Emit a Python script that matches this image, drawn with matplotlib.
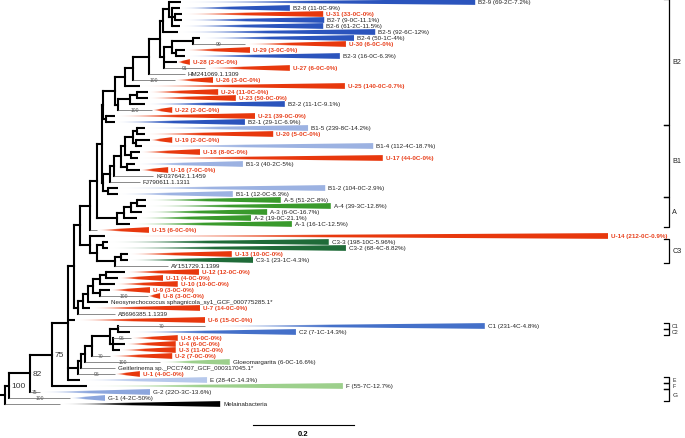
import numpy as np
import matplotlib.pyplot as plt
from matplotlib.patches import Polygon
from matplotlib.colors import to_rgb

plt.rcParams['font.family'] = ['Liberation Sans', 'DejaVu Sans']

# leaves, top to bottom
leaf_ids = ['B2-9', 'B2-8', 'U-31', 'B2-7', 'B2-6', 'B2-5', 'B2-4', 'U-30', 'U-29', 'B2-3',
            'U-28', 'U-27', 'HM241069', 'U-26', 'U-25', 'U-24', 'U-23', 'B2-2', 'U-22', 'U-21',
            'B2-1', 'B1-5', 'U-20', 'U-19', 'B1-4', 'U-18', 'U-17', 'B1-3', 'U-16', 'KF037642',
            'FJ790611', 'B1-2', 'B1-1', 'A-5', 'A-4', 'A-3', 'A-2', 'A-1', 'U-15', 'U-14',
            'C3-3', 'C3-2', 'U-13', 'C3-1', 'AY151729', 'U-12', 'U-11', 'U-10', 'U-9', 'U-8',
            'Neo', 'U-7', 'AB696385', 'U-6', 'C1', 'C2', 'U-5', 'U-4', 'U-3', 'U-2',
            'Gloeo', 'Geitler', 'U-1', 'E', 'F', 'G-2', 'G-1', 'Mel']

leaf_labels = ['B2-9 (69-2C-7.2%)', 'B2-8 (11-0C-9%)', 'U-31 (33-0C-0%)', 'B2-7 (9-0C-11.1%)',
               'B2-6 (61-2C-11.5%)', 'B2-5 (92-6C-12%)', 'B2-4 (50-1C-4%)', 'U-30 (6-0C-0%)',
               'U-29 (3-0C-0%)', 'B2-3 (16-0C-6.3%)', 'U-28 (2-0C-0%)', 'U-27 (6-0C-0%)',
               'HM241069.1.1309', 'U-26 (3-0C-0%)', 'U-25 (140-0C-0.7%)', 'U-24 (11-0C-0%)',
               'U-23 (50-0C-0%)', 'B2-2 (11-1C-9.1%)', 'U-22 (2-0C-0%)', 'U-21 (39-0C-0%)',
               'B2-1 (29-1C-6.9%)', 'B1-5 (239-8C-14.2%)', 'U-20 (5-0C-0%)', 'U-19 (2-0C-0%)',
               'B1-4 (112-4C-18.7%)', 'U-18 (8-0C-0%)', 'U-17 (44-0C-0%)', 'B1-3 (40-2C-5%)',
               'U-16 (7-0C-0%)', 'KF037642.1.1459', 'FJ790611.1.1311', 'B1-2 (104-0C-2.9%)',
               'B1-1 (12-0C-8.3%)', 'A-5 (51-2C-8%)', 'A-4 (39-3C-12.8%)', 'A-3 (6-0C-16.7%)',
               'A-2 (19-0C-21.1%)', 'A-1 (16-1C-12.5%)', 'U-15 (6-0C-0%)', 'U-14 (212-0C-0.9%)',
               'C3-3 (198-10C-5.96%)', 'C3-2 (68-4C-8.82%)', 'U-13 (10-0C-0%)', 'C3-1 (23-1C-4.3%)',
               'AY151729.1.1399', 'U-12 (12-0C-0%)', 'U-11 (4-0C-0%)', 'U-10 (10-0C-0%)',
               'U-9 (3-0C-0%)', 'U-8 (3-0C-0%)', 'Neosynechococcus sphagnicola_sy1_GCF_000775285.1*',
               'U-7 (14-0C-0%)', 'AB696385.1.1339', 'U-6 (15-0C-0%)', 'C1 (231-4C-4.8%)',
               'C2 (7-1C-14.3%)', 'U-5 (4-0C-0%)', 'U-4 (6-0C-0%)', 'U-3 (11-0C-0%)', 'U-2 (7-0C-0%)',
               'Gloeomargarita (6-0C-16.6%)', 'Geitlerinema sp._PCC7407_GCF_000317045.1*',
               'U-1 (4-0C-0%)', 'E (28-4C-14.3%)', 'F (55-7C-12.7%)', 'G-2 (22O-3C-13.6%)',
               'G-1 (4-2C-50%)', 'Melainabacteria']

# colour group of each collapsed clade (None = single sequence)
leaf_group = ['B2', 'B2', 'U', 'B2', 'B2', 'B2', 'B2', 'U', 'U', 'B2',
              'U', 'U', None, 'U', 'U', 'U', 'U', 'B2', 'U', 'U',
              'B2', 'B1', 'U', 'U', 'B1', 'U', 'U', 'B1', 'U', None,
              None, 'B1', 'B1', 'A', 'A', 'A', 'A', 'A', 'U', 'U',
              'C3', 'C3', 'U', 'C3', None, 'U', 'U', 'U', 'U', 'U',
              None, 'U', None, 'U', 'C', 'C', 'U', 'U', 'U', 'U',
              'LG', None, 'U', 'E', 'LG', 'G', 'G', 'M']

# depth where the collapsed clade starts, and depth of its deepest tip
leaf_start = [0.358, 0.356, 0.360, 0.360, 0.356, 0.352, 0.396, 0.485, 0.366, 0.366,
              0.351, 0.406, None, 0.347, 0.277, 0.293, 0.293, 0.287, 0.301, 0.228,
              0.228, 0.287, 0.287, 0.297, 0.281, 0.277, 0.273, 0.267, 0.277, None,
              None, 0.234, 0.234, 0.289, 0.289, 0.281, 0.271, 0.257, 0.192, 0.208,
              0.214, 0.214, 0.253, 0.253, None, 0.248, 0.234, 0.228, 0.218, 0.293,
              None, 0.178, None, 0.149, 0.406, 0.257, 0.259, 0.248, 0.238, 0.218,
              0.317, None, 0.228, 0.158, 0.172, 0.079, 0.139, 0.119]
leaf_tip = [0.941, 0.574, 0.640, 0.642, 0.640, 0.743, 0.701, 0.685, 0.495, 0.673,
            0.376, 0.574, 0.366, 0.422, 0.683, 0.432, 0.467, 0.564, 0.341, 0.505,
            0.485, 0.610, 0.541, 0.341, 0.739, 0.396, 0.758, 0.481, 0.333, 0.303,
            0.277, 0.644, 0.461, 0.556, 0.655, 0.529, 0.497, 0.578, 0.295, 1.204,
            0.651, 0.685, 0.459, 0.501, 0.333, 0.394, 0.323, 0.352, 0.297, 0.317,
            0.214, 0.396, 0.228, 0.406, 0.960, 0.586, 0.352, 0.348, 0.348, 0.341,
            0.455, 0.228, 0.277, 0.410, 0.679, 0.297, 0.208, 0.436]

thin_stems = ['U-30', 'U-27', 'HM241069', 'U-26', 'U-22', 'KF037642', 'FJ790611', 'U-15',
              'AY151729', 'U-8', 'AB696385', 'C1', 'U-5', 'U-2', 'Gloeo', 'Geitler', 'U-1',
              'G-2', 'G-1', 'Mel']

branch_support = {'U-30': '99', 'U-27': '91', 'U-26': '100', 'U-22': '100', 'U-8': '100',
                  'C1': '70', 'U-5': '96', 'U-2': '70', 'Gloeo': '100', 'U-1': '96',
                  'G-2': '75', 'G-1': '100'}

# internal nodes: name -> (depth, children)
nodes = {
    'root': (0.010, ['n100', 'Mel']),
    'n100': (0.018, ['n82', 'G-1']),
    'n82': (0.059, ['n75', 'G-2']),
    'n75': (0.103, ['L1', 'F']),
    'L1': (0.135, ['L2', 'U-6', 'NC0', 'E']),
    'L2': (0.147, ['L3', 'M2']),
    'L3': (0.158, ['L4', 'MC3']),
    'L4': (0.178, ['L5', 'U-15']),
    'L5': (0.192, ['L6', 'An']),
    'L6': (0.202, ['B2A', 'B1g']),
    'B2A': (0.204, ['B2L1', 'B2n21']),
    'B2L1': (0.228, ['B2L2', 'B2low']),
    'B2L2': (0.248, ['B2L3', 'U-25']),
    'B2L3': (0.263, ['B2L4', 'U-26']),
    'B2L4': (0.295, ['B2L5', 'HM241069']),
    'B2L5': (0.317, ['B2T', 'B2mid']),
    'B2T': (0.323, ['B2top', 'B2-5']),
    'B2top': (0.335, ['B2-9', 'T1']),
    'T1': (0.341, ['B2-8', 'T2', 'B2-6']),
    'T2': (0.347, ['U-31', 'B2-7']),
    'B2mid': (0.325, ['M1', 'U-28', 'U-27']),
    'M1': (0.341, ['M1a', 'M1b']),
    'M1a': (0.382, ['B2-4', 'U-30']),
    'M1b': (0.349, ['U-29', 'B2-3']),
    'B2low': (0.234, ['B2l1', 'U-22']),
    'B2l1': (0.257, ['B2l3', 'B2-2']),
    'B2l3': (0.271, ['U-24', 'U-23']),
    'B2n21': (0.210, ['U-21', 'B2-1']),
    'B1g': (0.204, ['B1top', 'B1x']),
    'B1top': (0.218, ['B1t2', 'FJ790611']),
    'B1t2': (0.226, ['B1t3', 'KF037642']),
    'B1t3': (0.240, ['B1up', 'B1low']),
    'B1up': (0.248, ['B1p1', 'B1p2']),
    'B1p1': (0.263, ['B1p3', 'B1p4']),
    'B1p3': (0.271, ['B1-5', 'U-20']),
    'B1p4': (0.269, ['U-19', 'B1-4']),
    'B1p2': (0.259, ['U-18', 'U-17']),
    'B1low': (0.251, ['B1-3', 'U-16']),
    'B1x': (0.214, ['B1-2', 'B1-1']),
    'An': (0.232, ['Aa', 'A-1']),
    'Aa': (0.246, ['Ab', 'A-2']),
    'Ab': (0.259, ['Ac', 'A-3']),
    'Ac': (0.271, ['A-5', 'A-4']),
    'MC3': (0.178, ['U-14', 'C3g']),
    'C3g': (0.192, ['C3a', 'C3b']),
    'C3a': (0.204, ['C3-3', 'C3-2']),
    'C3b': (0.228, ['C3c', 'AY151729']),
    'C3c': (0.240, ['U-13', 'C3-1']),
    'M2': (0.154, ['M3', 'AB696385']),
    'M3': (0.164, ['M4', 'U-7']),
    'M4': (0.174, ['M5', 'Neo']),
    'M5': (0.184, ['M6', 'M6b']),
    'M6': (0.198, ['M6c', 'U-10']),
    'M6c': (0.210, ['U-12', 'U-11']),
    'M6b': (0.198, ['U-9', 'U-8']),
    'NC0': (0.154, ['NC1', 'U-1']),
    'NC1': (0.160, ['NC2', 'Geitler']),
    'NC2': (0.168, ['NC3', 'Gloeo']),
    'NC3': (0.182, ['NC4', 'U-2']),
    'NC4': (0.218, ['NC5', 'NU']),
    'NC5': (0.234, ['C1', 'C2']),
    'NU': (0.224, ['U-5', 'U-4', 'U-3']),
}
node_support = {'n100': '100', 'n82': '82', 'n75': '75'}

clade_brackets = [('B2', 'B2-9', 'B2-1'), ('B1', 'B1-5', 'B1-1'), ('A', 'A-5', 'A-1'),
                  ('C3', 'C3-3', 'C3-1'), ('C1', 'C1', 'C1'), ('C2', 'C2', 'C2'),
                  ('E', 'E', 'E'), ('F', 'F', 'F'), ('G', 'G-2', 'G-1')]

colors = {'U': '#e8380d', 'B2': '#2b55bd', 'B1': '#9cb2e2', 'A': '#3a9a2c', 'C3': '#1f6b39',
          'C': '#4570c9', 'LG': '#9dd08c', 'E': '#b7c9ec', 'G': '#8ca6dd', 'M': '#000000'}
U_TEXT = '#e8401c'

fig = plt.figure(figsize=(6.85, 4.39), dpi=100)
ax = fig.add_axes([0, 0, 1, 1])

leaf_y = {lid: i for i, lid in enumerate(leaf_ids)}
node_y = {}


def place(n):
    if n in leaf_y:
        return leaf_y[n]
    ys = [place(c) for c in nodes[n][1]]
    node_y[n] = (ys[0] + ys[-1]) / 2
    return node_y[n]


place('root')
THICK, THIN = 1.5, 0.7
half = 0.48


def wedge(x0, x1, y, col):
    t = np.linspace(0, 1, 256)
    s = np.clip(t / 0.45, 0, 1)
    rgb = 1 - s[:, None] * (1 - np.array(to_rgb(col)))
    im = ax.imshow(rgb[None, :, :], extent=(x0, x1, y + half, y - half), aspect='auto',
                   interpolation='bilinear', zorder=2)
    tri = Polygon([[x0, y], [x1, y - half], [x1, y + half]], closed=True,
                  transform=ax.transData, fc='none', ec='none')
    im.set_clip_path(tri)


def draw_leaf(c, px):
    i = leaf_y[c]
    grp = leaf_group[i]
    end = leaf_start[i] if grp else leaf_tip[i]
    thin = c in thin_stems
    ax.plot([px, end], [i, i], color='#8a8a8a' if thin else 'black',
            lw=THIN if thin else THICK, solid_capstyle='butt', zorder=3)
    if c in branch_support:
        ax.text((px + end) / 2, i, branch_support[c], ha='center', va='center',
                fontsize=3.6, color='#555555', zorder=4)
    if grp:
        wedge(leaf_start[i], leaf_tip[i], i, colors[grp])
    is_u = c.startswith('U-')
    ax.text(leaf_tip[i] + 0.006, i, leaf_labels[i], ha='left', va='center',
            fontsize=4.5, color=U_TEXT if is_u else '#222222',
            fontweight='bold' if is_u else 'normal', zorder=4)


def draw(n, px):
    x, kids = nodes[n]
    y = node_y[n]
    ax.plot([px, x], [y, y], color='black', lw=THICK, solid_capstyle='projecting', zorder=3)
    ys = [leaf_y[k] if k in leaf_y else node_y[k] for k in kids]
    ax.plot([x, x], [ys[0], ys[-1]], color='black', lw=THICK, solid_capstyle='projecting', zorder=3)
    if n in node_support:
        ax.text(x + 0.005, y, node_support[n], ha='left', va='center', fontsize=6,
                color='#333333', zorder=4)
    for k in kids:
        if k in leaf_y:
            draw_leaf(k, x)
        else:
            draw(k, x)


draw('root', 0.0)

# clade brackets on the right
bx = 1.324
for name, first, last in clade_brackets:
    y0, y1 = leaf_y[first] - 0.45, leaf_y[last] + 0.45
    ax.plot([bx - 0.010, bx, bx, bx - 0.010], [y0, y0, y1, y1], color='black', lw=0.9, zorder=3)
    n = leaf_y[last] - leaf_y[first] + 1
    fs = 5.2 if n >= 3 else (4.6 if n == 2 else 3.8)
    ax.text(bx + 0.007, (y0 + y1) / 2, name, ha='left', va='center', fontsize=fs, color='#222222')

# scale bar
ax.plot([0.5, 0.7], [70.5, 70.5], color='black', lw=0.8)
ax.text(0.6, 71.9, '0.2', ha='center', va='center', fontsize=5.5, fontweight='bold')

ax.set_xlim(0, 685 / 505)
ax.set_ylim(72.67, -0.5)
ax.axis('off')
fig.savefig('out.png', dpi=100)
